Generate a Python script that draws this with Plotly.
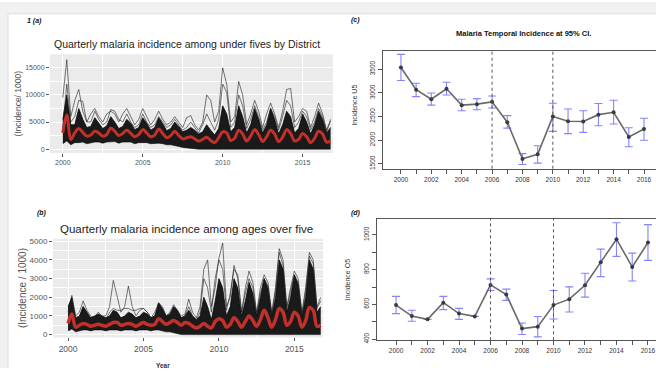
import plotly.graph_objects as go

W, H = 656, 371
FONT = "Liberation Sans, Arial, sans-serif"

# ---------------- data: quarterly district series (a) under fives ----------------
quarter_years = list(range(2000, 2017))
quarter_offsets = [0.0, 0.25, 0.5, 0.75]

mean_u5 = [3000, 6300, 1800, 3000,
           3800, 3100, 2400, 2600,
           3300, 3000, 2400, 2700,
           3900, 3300, 2500, 2900,
           3500, 2900, 2300, 2700,
           3600, 3000, 2300, 2600,
           3700, 2900, 2100, 2500,
           3300, 2500, 1900, 2100,
           2300, 1900, 1500, 1800,
           2200, 1600, 1200, 2100,
           3200, 3000, 1600, 2000,
           3500, 2800, 1500, 2400,
           3600, 2700, 1400, 2300,
           3500, 2800, 1400, 2200,
           3600, 2900, 1500, 1800,
           2900, 2300, 1200, 2000,
           3300, 2800, 1300, 1500]

band_hi_u5 = [5500, 10000, 4500, 4500,
              7500, 5500, 4000, 4200,
              5800, 4800, 3800, 4300,
              6000, 5000, 3800, 4200,
              5500, 4800, 3600, 4000,
              5800, 4800, 3500, 4000,
              5800, 4700, 3400, 3800,
              5000, 4200, 3200, 3500,
              4000, 3500, 2800, 3200,
              4500, 3500, 2600, 3800,
              8000, 6500, 3200, 4000,
              8000, 6000, 3000, 4500,
              7500, 5500, 3000, 4500,
              7500, 5500, 2800, 4500,
              7000, 6000, 3000, 3800,
              6500, 5000, 2800, 4500,
              7000, 5500, 3000, 4000]

band_lo_u5 = [1000, 1500, 800, 1200,
              1200, 1300, 1000, 1200,
              1300, 1300, 1100, 1300,
              1300, 1400, 1100, 1300,
              1300, 1300, 1000, 1200,
              1200, 1200, 1000, 1100,
              1100, 1000, 800, 800,
              700, 500, 300, 200,
              100, 0, 0, 0,
              0, 0, 0, 0,
              0, 0, 0, 0,
              0, 0, 0, 0,
              0, 0, 0, 0,
              0, 0, 0, 0,
              0, 0, 0, 0,
              0, 0, 0, 0,
              0, 0, 0, 0]

peak1_u5 = [9500, 16500, 6000, 9000,
            11000, 7000, 5000, 6500,
            7500, 6000, 5000, 6500,
            7000, 6500, 5000, 6500,
            7500, 6000, 4500, 5500,
            7500, 6000, 4500, 5500,
            7000, 5500, 4500, 5000,
            6000, 5000, 4000, 5800,
            6200, 4500, 3500, 5000,
            10000, 9000, 5000, 7000,
            15000, 12000, 5000, 6000,
            12500, 10000, 4500, 6500,
            9000, 7000, 4000, 6500,
            8500, 6500, 4000, 7000,
            11000, 11200, 5000, 6000,
            7500, 7000, 4000, 6000,
            8500, 6500, 3500, 5500]

peak2_u5 = [4000, 12000, 5000, 6000,
            9000, 8800, 5000, 5000,
            7000, 5500, 4500, 5000,
            7300, 7000, 5500, 5000,
            6500, 5000, 4000, 4500,
            6500, 5000, 4000, 4500,
            6000, 5000, 4000, 4500,
            5500, 4500, 3500, 4000,
            5000, 4000, 3000, 4500,
            6500, 5000, 3500, 5500,
            12000, 10500, 4000, 5000,
            10000, 8000, 3800, 5500,
            8000, 6000, 3500, 5000,
            7500, 6000, 3500, 6000,
            9000, 8000, 4000, 5000,
            7000, 6000, 3500, 5000,
            7500, 6000, 3200, 5200]

# ---------------- data: quarterly district series (b) over fives ----------------
mean_o5 = [600, 1100, 400, 500,
           600, 550, 450, 500,
           550, 500, 450, 550,
           650, 650, 500, 550,
           600, 550, 450, 550,
           650, 550, 500, 550,
           850, 700, 550, 650,
           750, 650, 500, 650,
           600, 450, 350, 450,
           600, 450, 350, 700,
           850, 750, 400, 550,
           900, 700, 400, 700,
           1000, 750, 450, 800,
           1300, 900, 400, 800,
           1400, 1200, 500, 700,
           1200, 1000, 400, 750,
           1450, 1300, 450, 500]

band_hi_o5 = [1500, 2000, 900, 1000,
              1500, 1200, 900, 1000,
              1100, 1000, 900, 1000,
              1300, 1200, 900, 1000,
              1200, 1100, 900, 1000,
              1200, 1100, 900, 1000,
              1700, 1400, 1000, 1100,
              1500, 1300, 900, 1000,
              1300, 1000, 800, 1000,
              2000, 1500, 800, 1800,
              3000, 2500, 1000, 1500,
              3000, 2500, 1000, 1800,
              2800, 2200, 1000, 2000,
              3000, 2500, 1000, 2000,
              4000, 3500, 1200, 2000,
              3200, 2700, 1000, 2000,
              4000, 3500, 1200, 1500]

band_lo_o5 = [200, 300, 150, 200,
              250, 250, 200, 250,
              250, 250, 200, 250,
              250, 250, 200, 250,
              250, 250, 200, 250,
              250, 250, 200, 250,
              250, 200, 150, 150,
              100, 50, 0, 0,
              0, 0, 0, 0,
              0, 0, 0, 0,
              0, 0, 0, 0,
              0, 0, 0, 0,
              0, 0, 0, 0,
              0, 0, 0, 0,
              0, 0, 0, 0,
              0, 0, 0, 0,
              0, 0, 0, 0]

peak1_o5 = [1200, 2100, 1000, 1200,
            1800, 1300, 1000, 900,
            1200, 1000, 1000, 1500,
            2900, 2000, 1200, 1500,
            2600, 1500, 1000, 1300,
            1400, 1200, 900, 1200,
            1700, 1500, 1000, 1200,
            1600, 1300, 1000, 1100,
            1900, 1200, 900, 1500,
            3500, 4000, 1500, 2500,
            4100, 4900, 1500, 2000,
            3700, 3000, 1200, 2500,
            3400, 2800, 1200, 2500,
            3200, 2800, 1200, 2500,
            4600, 4000, 1500, 2500,
            3400, 3000, 1200, 2500,
            4400, 4000, 1500, 2000]

peak2_o5 = [1000, 1700, 800, 900,
            1500, 1100, 900, 800,
            1000, 900, 800, 1200,
            1400, 1300, 1300, 1400,
            1400, 1300, 1300, 1400,
            1400, 1200, 900, 1000,
            1500, 1300, 900, 1000,
            1400, 1200, 900, 1000,
            1500, 1000, 800, 1200,
            3000, 2500, 1200, 3000,
            4000, 3500, 1300, 2200,
            3500, 3200, 1200, 2200,
            3000, 2500, 1100, 2200,
            3000, 2600, 1100, 2300,
            4400, 3700, 1400, 2300,
            3200, 2800, 1100, 2300,
            4200, 3800, 1400, 1800]

# ---------------- data: annual incidence with 95% CI ----------------
years = list(range(2000, 2017))
inc_u5 = [3535, 3064, 2863, 3085, 2739, 2760, 2808, 2379, 1604, 1701,
          2497, 2400, 2393, 2538, 2587, 2068, 2234]
inc_u5_hi = [3811, 3202, 2995, 3223, 2863, 2877, 2933, 2517, 1715, 1880,
             2780, 2656, 2621, 2773, 2843, 2261, 2462]
inc_u5_lo = [3258, 2919, 2739, 2953, 2621, 2642, 2677, 2254, 1486, 1514,
             2185, 2137, 2164, 2304, 2339, 1860, 1998]

inc_o5 = [596, 533, 514, 610, 547, 531, 712, 657, 461, 472,
          596, 630, 710, 842, 975, 815, 956]
inc_o5_hi = [646, 566, None, 646, 577, None, 747, 688, 493, 530,
             680, 701, 779, 918, 1070, 895, 1059]
inc_o5_lo = [547, 503, None, 570, 514, None, 680, 623, 427, 413,
             516, 556, 642, 760, 876, 735, 853]

break_years = [2006, 2010]

# ---------------- build figure ----------------
xq = [y + o for y in quarter_years for o in quarter_offsets]

fig = go.Figure()


def spaghetti(xa, ya, lo, hi, p1, p2, mean, red_w):
    fig.add_trace(go.Scatter(x=xq, y=lo, mode="lines", line=dict(color="rgba(0,0,0,0.9)", width=0.6),
                             xaxis=xa, yaxis=ya, showlegend=False, hoverinfo="skip"))
    fig.add_trace(go.Scatter(x=xq, y=hi, mode="lines", fill="tonexty", fillcolor="rgba(8,8,8,0.92)",
                             line=dict(color="rgba(0,0,0,0.9)", width=0.8),
                             xaxis=xa, yaxis=ya, showlegend=False, hoverinfo="skip"))
    for s in (p1, p2):
        fig.add_trace(go.Scatter(x=xq, y=s, mode="lines", line=dict(color="rgba(30,30,30,0.75)", width=0.8),
                                 xaxis=xa, yaxis=ya, showlegend=False, hoverinfo="skip"))
    fig.add_trace(go.Scatter(x=xq, y=mean, mode="lines", line=dict(color="#C2302A", width=red_w, shape="spline"),
                             xaxis=xa, yaxis=ya, showlegend=False, hoverinfo="skip"))


spaghetti("x", "y", band_lo_u5, band_hi_u5, peak1_u5, peak2_u5, mean_u5, 3)
spaghetti("x2", "y2", band_lo_o5, band_hi_o5, peak1_o5, peak2_o5, mean_o5, 3.5)


def ci_panel(xa, ya, val, hi, lo):
    plus = [None if h is None else h - v for h, v in zip(hi, val)]
    minus = [None if l is None else v - l for l, v in zip(lo, val)]
    fig.add_trace(go.Scatter(x=years, y=val, mode="lines+markers",
                             line=dict(color="#6a6a6a", width=1.6),
                             marker=dict(color="#3a3a3a", size=4),
                             error_y=dict(type="data", symmetric=False, array=plus, arrayminus=minus,
                                          color="#8484ff", thickness=1.1, width=4),
                             xaxis=xa, yaxis=ya, showlegend=False, hoverinfo="skip"))


ci_panel("x3", "y3", inc_u5, inc_u5_hi, inc_u5_lo)
ci_panel("x4", "y4", inc_o5, inc_o5_hi, inc_o5_lo)


def dx(p):
    return p / W


def dy(p):
    return 1 - p / H


gg_axis = dict(showline=False, ticks="outside", ticklen=3, tickcolor="#555", tickwidth=1,
               tickfont=dict(family=FONT, size=7, color="#555"), gridcolor="white", gridwidth=1,
               zeroline=False, showgrid=True, tickformat="d")

layout = dict(width=W, height=H, margin=dict(l=0, r=0, t=0, b=0), paper_bgcolor="white",
              plot_bgcolor="rgba(0,0,0,0)", showlegend=False, font=dict(family=FONT))

layout["xaxis"] = dict(gg_axis, domain=[dx(50), dx(333)], range=[1999.2, 2016.9], anchor="y",
                       tickvals=[2000, 2005, 2010, 2015],
                       minor=dict(tickvals=[2002.5, 2007.5, 2012.5], showgrid=True, gridcolor="white", gridwidth=0.5, ticks=""))
layout["yaxis"] = dict(gg_axis, domain=[dy(153), dy(53)], range=[-700, 17500], anchor="x",
                       tickvals=[0, 5000, 10000, 15000],
                       minor=dict(tickvals=[2500, 7500, 12500], showgrid=True, gridcolor="white", gridwidth=0.5, ticks=""))
layout["xaxis2"] = dict(gg_axis, domain=[dx(53), dx(323)], range=[1999.0, 2016.9], anchor="y2",
                        tickvals=[2000, 2005, 2010, 2015], tickfont=dict(family=FONT, size=8.5, color="#555"),
                        minor=dict(tickvals=[2002.5, 2007.5, 2012.5], showgrid=True, gridcolor="white", gridwidth=0.5, ticks=""))
layout["yaxis2"] = dict(gg_axis, domain=[dy(340), dy(240)], range=[-150, 5130], anchor="x2",
                        tickvals=[0, 1000, 2000, 3000, 4000, 5000], tickfont=dict(family=FONT, size=8, color="#555"),
                        minor=dict(tickvals=[500, 1500, 2500, 3500, 4500], showgrid=True, gridcolor="white", gridwidth=0.5, ticks=""))

r_axis = dict(showline=True, linecolor="#555", linewidth=1, ticks="outside", ticklen=4, tickcolor="#555",
              tickfont=dict(family=FONT, size=6.5, color="#333"), showgrid=False, zeroline=False)

layout["xaxis3"] = dict(r_axis, domain=[dx(383), 1], range=[1998.82, 2016.79], anchor="y3", mirror=True,
                        tickvals=years, ticktext=[str(y) if y % 2 == 0 else "" for y in years])
layout["yaxis3"] = dict(r_axis, domain=[dy(169), dy(50)], range=[1396, 3875], anchor="x3",
                        tickvals=[1500, 2000, 2500, 3000, 3500], tickangle=-90)
layout["xaxis4"] = dict(r_axis, domain=[dx(377), 1], range=[1998.79, 2016.51], anchor="y4", mirror=True,
                        tickvals=years, ticktext=[str(y) if y % 2 == 0 else "" for y in years])
layout["yaxis4"] = dict(r_axis, domain=[dy(343), dy(220)], range=[393, 1091], anchor="x4",
                        tickvals=[400, 500, 600, 700, 800, 900, 1000],
                        ticktext=["400", "", "600", "", "800", "", "1000"], tickangle=-90)

shapes = [
    dict(type="rect", xref="paper", yref="paper", x0=0, x1=dx(8), y0=0, y1=1, fillcolor="#f1f1f1", line=dict(width=0), layer="below"),
    dict(type="rect", xref="paper", yref="paper", x0=0, x1=1, y0=dy(12), y1=1, fillcolor="#f1f1f1", line=dict(width=0), layer="below"),
    dict(type="line", xref="paper", yref="paper", x0=dx(8), x1=1, y0=dy(12), y1=dy(12), line=dict(color="#dcdcdc", width=1)),
    dict(type="line", xref="paper", yref="paper", x0=dx(8), x1=dx(8), y0=0, y1=dy(12), line=dict(color="#dcdcdc", width=1)),
    dict(type="rect", xref="x domain", yref="y domain", x0=0, x1=1, y0=0, y1=1, fillcolor="#EBEBEB", line=dict(width=0), layer="below"),
    dict(type="rect", xref="x2 domain", yref="y2 domain", x0=0, x1=1, y0=0, y1=1, fillcolor="#EBEBEB", line=dict(width=0), layer="below"),
]
for ax_x, ax_y in (("x3", "y3 domain"), ("x4", "y4 domain")):
    for by in break_years:
        shapes.append(dict(type="line", xref=ax_x, yref=ax_y, x0=by, x1=by, y0=0, y1=1,
                           line=dict(color="#555", width=1, dash="dot")))
layout["shapes"] = shapes


def ann(text, x, y, size, color="#222", bold=False, italic=False, angle=0, xanchor="center"):
    t = text
    if bold:
        t = "<b>" + t + "</b>"
    if italic:
        t = "<i>" + t + "</i>"
    return dict(text=t, x=dx(x), y=dy(y), xref="paper", yref="paper", showarrow=False,
                font=dict(family=FONT, size=size, color=color), textangle=angle,
                xanchor=xanchor, yanchor="middle")


layout["annotations"] = [
    ann("1 (a)", 25, 19, 7, "#111", bold=True, italic=True, xanchor="left"),
    ann("Quarterly malaria incidence among under fives by District", 187, 43, 10.5, "#222"),
    ann("(Incidence/ 1000)", 18, 103, 8.5, "#555", angle=-90),
    ann("(b)", 35, 214, 7, "#111", bold=True, italic=True, xanchor="left"),
    ann("Quarterly malaria incidence among ages over five", 187, 230, 11.5, "#222"),
    ann("(Incidence / 1000)", 22, 290, 10, "#555", angle=-90),
    ann("Year", 163, 368, 6.5, "#333", bold=True),
    ann("(c)", 349, 18, 7, "#111", bold=True, italic=True, xanchor="left"),
    ann("Malaria Temporal Incidence at 95% CI.", 523, 32, 7.5, "#111", bold=True),
    ann("Incidence U5", 355, 105, 7, "#333", angle=-90),
    ann("(d)", 349, 214, 7, "#111", bold=True, italic=True, xanchor="left"),
    ann("Incidence O5", 347, 282, 7, "#333", angle=-90),
]

fig.update_layout(**layout)
fig.write_html("out.html")
